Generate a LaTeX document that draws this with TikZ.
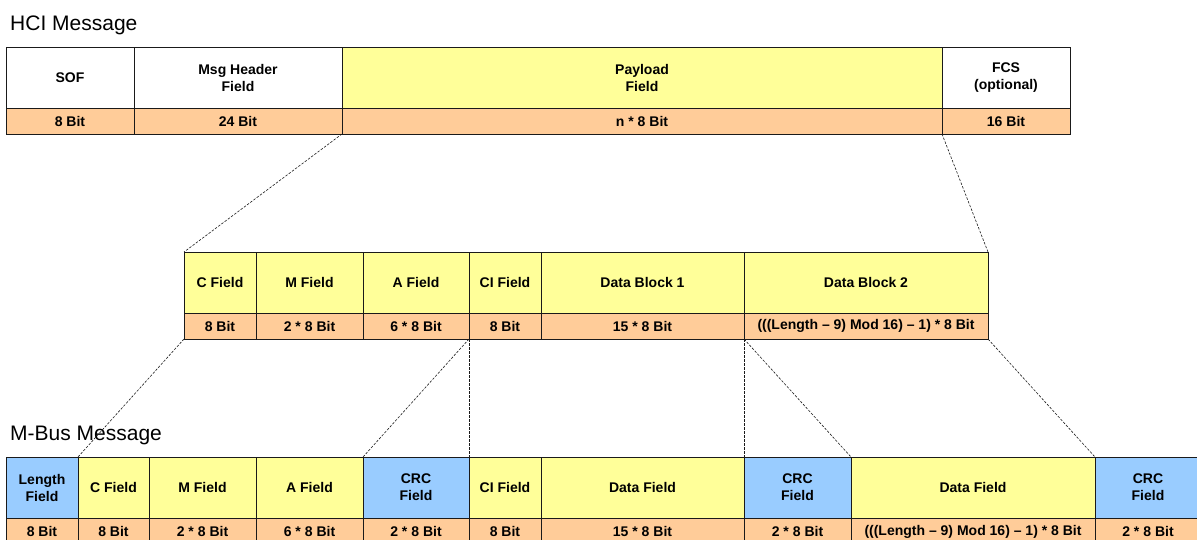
\documentclass[tikz,border=0pt]{standalone}
\usepackage{fontspec}
\setmainfont{Liberation Sans}
\definecolor{fieldyellow}{HTML}{FFFF99}
\definecolor{bitorange}{HTML}{FFCC99}
\definecolor{crcblue}{HTML}{99CCFF}
\definecolor{rulegray}{HTML}{1A1A1A}

\tikzset{
  cellbox/.style={draw=rulegray, line width=0.9pt, inner sep=0pt, outer sep=0pt,
    anchor=north west, align=center, font=\bfseries\fontsize{14}{17}\selectfont},
  msgtitle/.style={anchor=base west, inner sep=0pt, font=\fontsize{21}{25}\selectfont},
  split/.style={draw=rulegray, line width=0.6pt, dash pattern=on 2.5pt off 1.5pt},
}

% One field: name, left x, right x, top y, middle y, bottom y, fill, label, size
\newcommand\msgfield[9]{%
  \node[cellbox, fill=#7, minimum width={(#3-#2)*1pt}, minimum height={(#5-#4)*1pt}] (#1-t) at (#2,#4) {#8};
  \node[cellbox, fill=bitorange, minimum width={(#3-#2)*1pt}, minimum height={(#6-#5)*1pt}] (#1-b) at (#2,#5) {#9};
}

\begin{document}
\begin{tikzpicture}[x=1pt, y=-1pt]
\path[use as bounding box] (0,0) rectangle (1197,540);

% HCI frame
\node[msgtitle] (hcititle) at (10,30.5) {HCI Message};
\msgfield{hsof}{6}{134}{47}{108}{134}{white}{SOF}{8 Bit}
\msgfield{hhdr}{134}{342}{47}{108}{134}{white}{Msg Header\\Field}{24 Bit}
\msgfield{hpay}{342}{942}{47}{108}{134}{fieldyellow}{Payload\\Field}{n * 8 Bit}
\msgfield{hfcs}{942}{1070}{47}{108}{134}{white}{FCS\\(optional)}{16 Bit}

% Payload contents
\msgfield{mc}{184}{256}{252}{313}{339}{fieldyellow}{C Field}{8 Bit}
\msgfield{mm}{256}{363}{252}{313}{339}{fieldyellow}{M Field}{2 * 8 Bit}
\msgfield{ma}{363}{469}{252}{313}{339}{fieldyellow}{A Field}{6 * 8 Bit}
\msgfield{mci}{469}{541}{252}{313}{339}{fieldyellow}{CI Field}{8 Bit}
\msgfield{mdb1}{541}{744}{252}{313}{339}{fieldyellow}{Data Block 1}{15 * 8 Bit}
\msgfield{mdb2}{744}{988}{252}{313}{339}{fieldyellow}{Data Block 2}{(((Length – 9) Mod 16) – 1) * 8 Bit}

% M-Bus frame
\node[msgtitle] (mbustitle) at (10,440) {M-Bus Message};
\msgfield{blen}{6}{78}{457}{518}{545}{crcblue}{Length\\Field}{8 Bit}
\msgfield{bc}{78}{149}{457}{518}{545}{fieldyellow}{C Field}{8 Bit}
\msgfield{bm}{149}{256}{457}{518}{545}{fieldyellow}{M Field}{2 * 8 Bit}
\msgfield{ba}{256}{363}{457}{518}{545}{fieldyellow}{A Field}{6 * 8 Bit}
\msgfield{bcrca}{363}{469}{457}{518}{545}{crcblue}{CRC\\Field}{2 * 8 Bit}
\msgfield{bci}{469}{541}{457}{518}{545}{fieldyellow}{CI Field}{8 Bit}
\msgfield{bdfa}{541}{744}{457}{518}{545}{fieldyellow}{Data Field}{15 * 8 Bit}
\msgfield{bcrcb}{744}{851}{457}{518}{545}{crcblue}{CRC\\Field}{2 * 8 Bit}
\msgfield{bdfb}{851}{1095}{457}{518}{545}{fieldyellow}{Data Field}{(((Length – 9) Mod 16) – 1) * 8 Bit}
\msgfield{bcrcc}{1095}{1201}{457}{518}{545}{crcblue}{CRC\\Field}{2 * 8 Bit}

% Expansion guides
\draw[split] (hpay-b.south west) -- (mc-t.north west);
\draw[split] (hfcs-b.south west) -- (mdb2-t.north east);
\draw[split] (mc-b.south west) -- (bc-t.north west);
\draw[split] (mci-b.south west) -- (bcrca-t.north west);
\draw[split] (mci-b.south west) -- (bci-t.north west);
\draw[split] (mdb2-b.south west) -- (bcrcb-t.north west);
\draw[split] (mdb2-b.south west) -- (bdfb-t.north west);
\draw[split] (mdb2-b.south east) -- (bcrcc-t.north west);
\end{tikzpicture}
\end{document}
